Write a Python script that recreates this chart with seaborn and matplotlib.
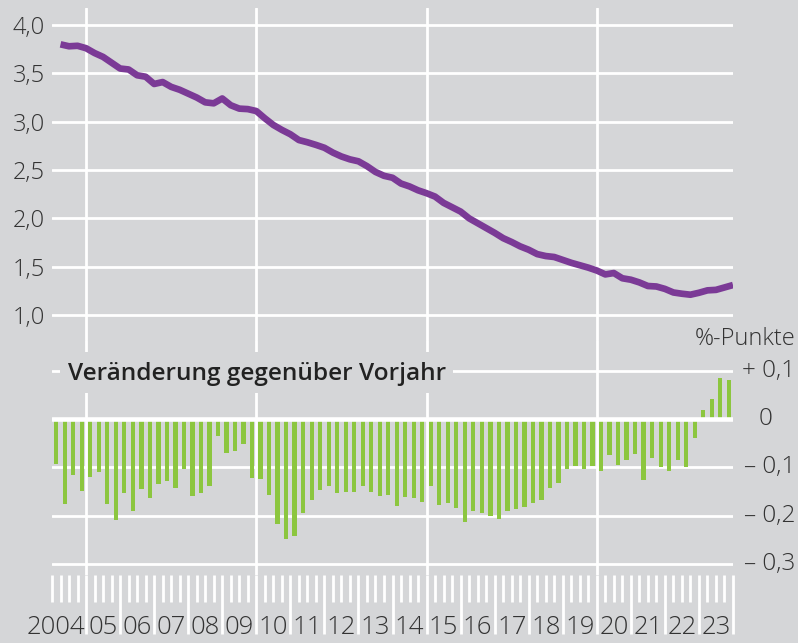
import numpy as np
import pandas as pd
import matplotlib
matplotlib.use("Agg")
import matplotlib.pyplot as plt
import seaborn as sns
from matplotlib.transforms import blended_transform_factory
from matplotlib.patches import Rectangle

# ---------------- data ----------------
years = list(range(2004, 2024))
year_labels = ["2004", "05", "06", "07", "08", "09", "10", "11", "12", "13",
               "14", "15", "16", "17", "18", "19", "20", "21", "22", "23"]

# quarterly level (2004Q1 .. 2023Q4)
rate = [3.80, 3.78, 3.785, 3.76, 3.71, 3.67, 3.61, 3.55, 3.54, 3.48,
        3.465, 3.39, 3.41, 3.36, 3.33, 3.29, 3.25, 3.20, 3.19, 3.24,
        3.17, 3.135, 3.13, 3.11, 3.035, 2.966, 2.915, 2.87, 2.81, 2.787,
        2.76, 2.73, 2.68, 2.64, 2.61, 2.59, 2.54, 2.48, 2.44, 2.42,
        2.36, 2.33, 2.29, 2.26, 2.225, 2.16, 2.115, 2.07, 2.00, 1.95,
        1.90, 1.85, 1.795, 1.755, 1.71, 1.675, 1.63, 1.61, 1.60, 1.57,
        1.54, 1.515, 1.49, 1.46, 1.42, 1.434, 1.38, 1.365, 1.337, 1.30,
        1.295, 1.27, 1.233, 1.22, 1.21, 1.23, 1.255, 1.26, 1.285, 1.31]

# change vs previous year, percentage points (2004Q1 .. 2023Q4)
change = [-0.094, -0.176, -0.117, -0.149, -0.121, -0.110, -0.176, -0.210, -0.154, -0.191,
          -0.145, -0.163, -0.135, -0.128, -0.142, -0.103, -0.160, -0.154, -0.139, -0.035,
          -0.070, -0.066, -0.052, -0.123, -0.125, -0.158, -0.218, -0.249, -0.242, -0.194,
          -0.167, -0.147, -0.139, -0.154, -0.151, -0.151, -0.138, -0.151, -0.160, -0.158,
          -0.181, -0.161, -0.164, -0.171, -0.139, -0.178, -0.174, -0.184, -0.214, -0.190,
          -0.195, -0.200, -0.208, -0.190, -0.187, -0.183, -0.174, -0.167, -0.143, -0.133,
          -0.103, -0.098, -0.103, -0.098, -0.108, -0.074, -0.096, -0.084, -0.073, -0.126,
          -0.081, -0.099, -0.108, -0.085, -0.100, -0.040, 0.019, 0.041, 0.085, 0.081]

rate_ticks = [1.0, 1.5, 2.0, 2.5, 3.0, 3.5, 4.0]
rate_tick_labels = ["1,0", "1,5", "2,0", "2,5", "3,0", "3,5", "4,0"]
change_ticks = [-0.3, -0.2, -0.1, 0.0, 0.1]
change_tick_labels = ["\u2013 0,3", "\u2013 0,2", "\u2013 0,1", "0", "+ 0,1"]
grid_years = [2005, 2010, 2015, 2020]
title_text = "Veränderung gegenüber Vorjahr"
unit_text = "%-Punkte"

# ---------------- style ----------------
BG = "#d5d6d8"
PURPLE = "#7b3a96"
GREEN = "#8cc63f"
TXT = "#333333"
NUMW = "light"

sns.set_theme(style="white", rc={"axes.facecolor": BG, "figure.facecolor": BG})
plt.rcParams["font.family"] = ["Open Sans", "DejaVu Sans"]

W, H = 798, 643
def fx(px):
    return px / W
def fy(py):
    return 1 - py / H

fig = plt.figure(figsize=(W / 100, H / 100), dpi=100)
ax_top = fig.add_axes([fx(52), fy(340), (733 - 52) / W, (340 - 8) / H])
ax_bot = fig.add_axes([fx(52), fy(575), (733 - 52) / W, (575 - 340) / H])

n = len(rate)
df_rate = pd.DataFrame({"x": 2004 + (np.arange(n) + 1) / 4, "rate": rate})
df_chg = pd.DataFrame({"x": 2004 + (np.arange(n) + 0.5) / 4, "chg": change})

# top panel: line
sns.lineplot(data=df_rate, x="x", y="rate", ax=ax_top, color=PURPLE, lw=4.8,
             solid_capstyle="butt", solid_joinstyle="round", zorder=4)
ax_top.set_xlim(2004, 2024)
ax_top.set_ylim(0.7414, 4.176)
ax_top.set_yticks(rate_ticks)
ax_top.set_yticklabels(rate_tick_labels, fontweight=NUMW)
ax_top.set_xticks([])
ax_top.grid(axis="y", color="white", lw=2.0)
ax_top.grid(axis="x", visible=False)
for g in grid_years:
    ax_top.axvline(g, color="white", lw=2.0, zorder=1)
ax_top.set_axisbelow(True)
ax_top.tick_params(axis="y", length=0, pad=5, labelsize=17, labelcolor=TXT)
ax_top.set_xlabel("")
ax_top.set_ylabel("")

# bottom panel: bars
sns.barplot(data=df_chg, x="x", y="chg", ax=ax_bot, native_scale=True, color=GREEN,
            saturation=1, width=0.5, linewidth=0, zorder=2)
ax_bot.set_xlim(2004, 2024)
ax_bot.set_ylim(-0.3233, 0.1637)
ax_bot.set_yticks(change_ticks)
ax_bot.tick_params(axis="y", length=0, labelleft=False)
ax_bot.grid(axis="y", color="white", lw=2.0)
ax_bot.grid(axis="x", visible=False)
ax_bot.set_axisbelow(True)
ax_bot.axhline(0, color="white", lw=3.3, zorder=3)
for g in grid_years:
    ax_bot.axvline(g, color="white", lw=2.0, zorder=1)
ax_bot.set_xticks(np.arange(2005, 2025))
ax_bot.set_xticks(2004 + np.arange(81) / 4, minor=True)
ax_bot.tick_params(axis="x", which="major", bottom=True, length=42.5, width=2.0,
                   color="white", direction="out", labelbottom=False)
ax_bot.tick_params(axis="x", which="minor", bottom=True, length=19.4, width=2.0,
                   color="white", direction="out", labelbottom=False)
ax_bot.set_xlabel("")
ax_bot.set_ylabel("")

for ax in (ax_top, ax_bot):
    for s in ax.spines.values():
        s.set_visible(False)

# right-hand labels for change axis
tr = blended_transform_factory(fig.transFigure, ax_bot.transData)
for v, lab in zip(change_ticks, change_tick_labels):
    xr = fx(773) if lab == "0" else fx(795)
    ax_bot.text(xr, v, lab, transform=tr, ha="right", va="center",
                fontsize=17.5, color=TXT, fontweight=NUMW)

fig.text(fx(795), fy(339), unit_text, ha="right", va="center", fontsize=17, color=TXT,
         fontweight=NUMW)

# subtitle with background box masking gridlines
fig.add_artist(Rectangle((fx(60), fy(393)), (453 - 60) / W, (393 - 352) / H,
                         transform=fig.transFigure, facecolor=BG, edgecolor="none", zorder=5))
fig.text(fx(68), fy(380), title_text, ha="left", va="baseline", fontsize=17.6,
         fontweight="semibold", color="#222222", zorder=6)

# year labels
trx = blended_transform_factory(ax_bot.transData, fig.transFigure)
for y, lab in zip(years, year_labels):
    if y == 2004:
        ax_bot.text(y + 0.97, fy(634), lab, transform=trx, ha="right", va="baseline",
                    fontsize=18.5, color=TXT, fontweight=NUMW)
    else:
        ax_bot.text(y + 0.5, fy(634), lab, transform=trx, ha="center", va="baseline",
                    fontsize=18.5, color=TXT, fontweight=NUMW)

fig.savefig("out.png", dpi=100, facecolor=BG)
